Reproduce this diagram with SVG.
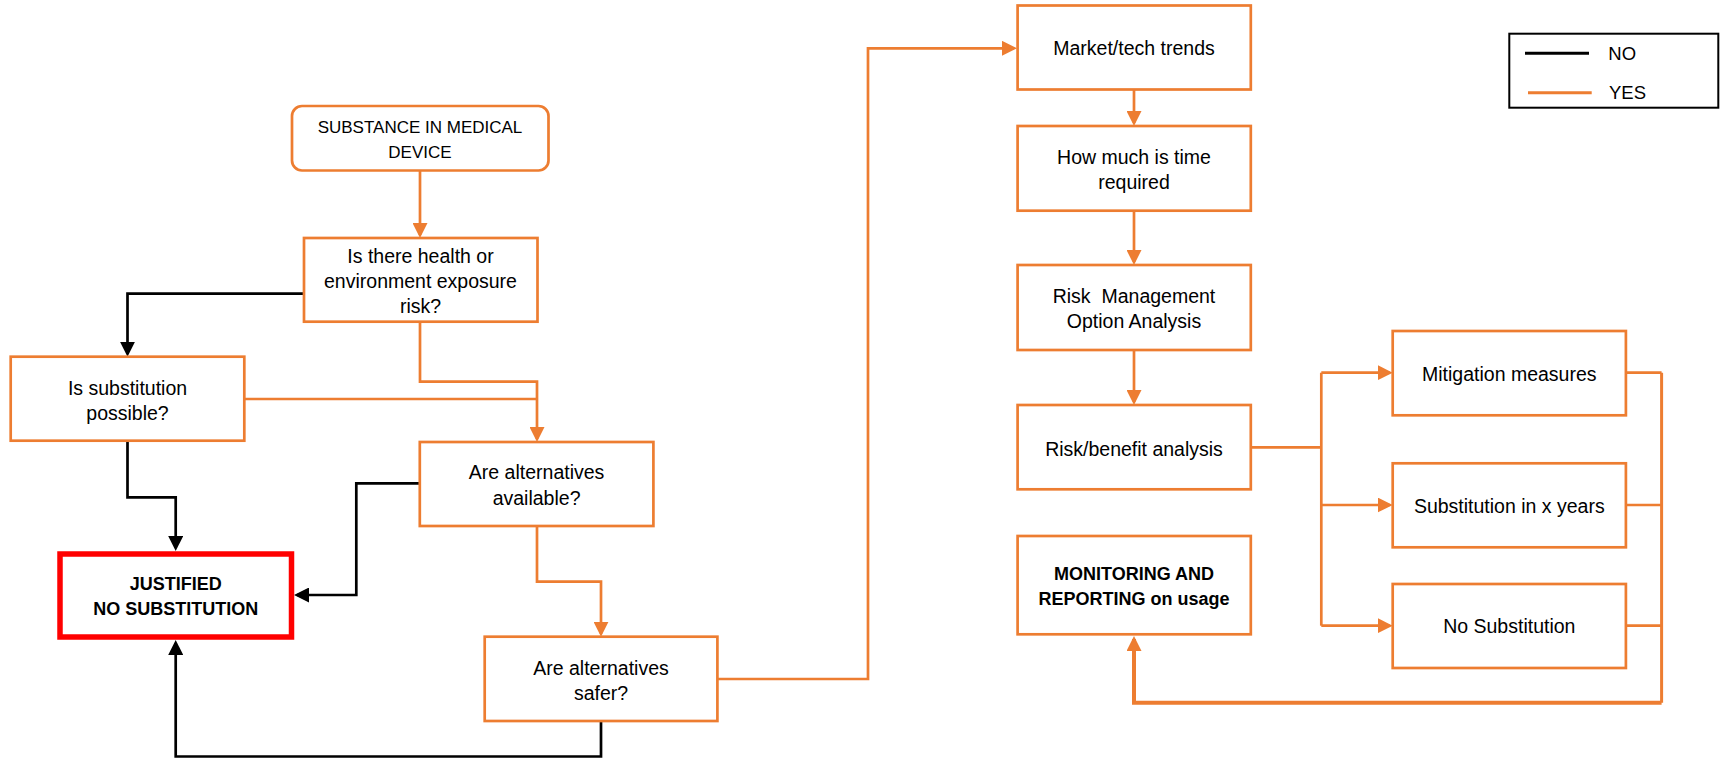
<svg xmlns="http://www.w3.org/2000/svg" width="1727" height="759" viewBox="0 0 1727 759">
<style>
.box{fill:#fff;stroke:#ED7D31;stroke-width:2.7}
.t{font-family:"Liberation Sans",Arial,sans-serif;font-size:19.5px;fill:#000;text-anchor:middle}
.c{font-size:17px}
.b{font-weight:bold;font-size:18px}
.y{fill:none;stroke:#ED7D31;stroke-width:2.7}
.n{fill:none;stroke:#000;stroke-width:2.7}
</style>
<defs>
<marker id="ao" markerUnits="userSpaceOnUse" markerWidth="15" markerHeight="15" refX="12" refY="7.5" orient="auto"><path d="M0,0 L15,7.5 L0,15 z" fill="#ED7D31"/></marker>
<marker id="ak" markerUnits="userSpaceOnUse" markerWidth="15" markerHeight="15" refX="12" refY="7.5" orient="auto"><path d="M0,0 L15,7.5 L0,15 z" fill="#000"/></marker>
</defs>
<rect width="1727" height="759" fill="#fff"/>
<g id="connectors">
<path class="y" d="M420,170.5 V235" marker-end="url(#ao)"/>
<path class="y" d="M420,321.7 V381.7 H537 V439" marker-end="url(#ao)"/>
<path class="y" d="M243.4,399 H537"/>
<path class="y" d="M537,526 V581.7 H601 V633.7" marker-end="url(#ao)"/>
<path class="y" d="M717.4,679 H868 V48.3 H1014" marker-end="url(#ao)"/>
<path class="y" d="M1134,89.5 V123" marker-end="url(#ao)"/>
<path class="y" d="M1134,210.7 V262" marker-end="url(#ao)"/>
<path class="y" d="M1134,350 V402" marker-end="url(#ao)"/>
<path class="y" d="M1250.8,447.3 H1321.3"/>
<path class="y" d="M1321.3,372.7 V625.7"/>
<path class="y" d="M1321.3,372.7 H1389.7" marker-end="url(#ao)"/>
<path class="y" d="M1321.3,505 H1389.7" marker-end="url(#ao)"/>
<path class="y" d="M1321.3,625.7 H1389.7" marker-end="url(#ao)"/>
<path class="y" d="M1626,372.7 H1661.6 M1626,505 H1661.6 M1626,625.7 H1661.6"/>
<path class="y" d="M1661.6,372.7 V702.7" style="stroke-width:3"/>
<path class="y" d="M1661.6,702.7 H1134 V639" style="stroke-width:4" marker-end="url(#ao)"/>
<path class="n" d="M304,293.6 H127.5 V353.7" marker-end="url(#ak)"/>
<path class="n" d="M127.5,440.7 V497.3 H175.7 V548" marker-end="url(#ak)"/>
<path class="n" d="M419.8,483.3 H356.3 V595 H297" marker-end="url(#ak)"/>
<path class="n" d="M601,721 V756.5 H175.7 V643" marker-end="url(#ak)"/>
</g>
<g id="n_substance">
<rect class="box" x="292" y="106" width="256.5" height="64.5" rx="10"/>
<text class="t c" x="420" y="132.8">SUBSTANCE IN MEDICAL</text>
<text class="t c" x="420" y="157.8">DEVICE</text>
</g>
<g id="n_exposure">
<rect class="box" x="304" y="238" width="233.5" height="83.7"/>
<text class="t" x="420.5" y="263.3">Is there health or</text>
<text class="t" x="420.5" y="287.7">environment exposure</text>
<text class="t" x="420.5" y="313">risk?</text>
</g>
<g id="n_possible">
<rect class="box" x="10.7" y="356.7" width="233.6" height="84"/>
<text class="t" x="127.5" y="394.7">Is substitution</text>
<text class="t" x="127.5" y="419.7">possible?</text>
</g>
<g id="n_available">
<rect class="box" x="419.8" y="442" width="233.6" height="84"/>
<text class="t" x="536.6" y="478.7">Are alternatives</text>
<text class="t" x="536.6" y="504.7">available?</text>
</g>
<g id="n_justified">
<rect x="60" y="554" width="231.5" height="83" fill="#fff" stroke="#FF0000" stroke-width="5.5"/>
<text class="t b" x="175.7" y="589.8">JUSTIFIED</text>
<text class="t b" x="175.7" y="614.8">NO SUBSTITUTION</text>
</g>
<g id="n_safer">
<rect class="box" x="484.7" y="636.7" width="232.7" height="84.3"/>
<text class="t" x="601" y="674.7">Are alternatives</text>
<text class="t" x="601" y="700.3">safer?</text>
</g>
<g id="n_market">
<rect class="box" x="1017.6" y="5.5" width="233.2" height="84"/>
<text class="t" x="1134" y="55.3">Market/tech trends</text>
</g>
<g id="n_time">
<rect class="box" x="1017.6" y="126" width="233.2" height="84.7"/>
<text class="t" x="1134" y="163.7">How much is time</text>
<text class="t" x="1134" y="188.7">required</text>
</g>
<g id="n_rmoa">
<rect class="box" x="1017.6" y="265" width="233.2" height="85"/>
<text class="t" x="1134" y="302.7" style="white-space:pre">Risk  Management</text>
<text class="t" x="1134" y="327.7">Option Analysis</text>
</g>
<g id="n_riskbenefit">
<rect class="box" x="1017.6" y="405" width="233.2" height="84.3"/>
<text class="t" x="1134" y="456">Risk/benefit analysis</text>
</g>
<g id="n_monitoring">
<rect class="box" x="1017.6" y="536" width="233.2" height="98.3"/>
<text class="t b" x="1134" y="579.8">MONITORING AND</text>
<text class="t b" x="1134" y="604.8">REPORTING on usage</text>
</g>
<g id="n_mitigation">
<rect class="box" x="1392.7" y="331" width="233.2" height="84.3"/>
<text class="t" x="1509.3" y="381">Mitigation measures</text>
</g>
<g id="n_subst_years">
<rect class="box" x="1392.7" y="463.3" width="233.2" height="84"/>
<text class="t" x="1509.3" y="512.7">Substitution in x years</text>
</g>
<g id="n_nosubst">
<rect class="box" x="1392.7" y="584" width="233.2" height="84"/>
<text class="t" x="1509.3" y="633">No Substitution</text>
</g>
<g id="legend">
<rect x="1509.3" y="33.7" width="209" height="74" fill="#fff" stroke="#000" stroke-width="2"/>
<line x1="1525" y1="53.3" x2="1589" y2="53.3" stroke="#000" stroke-width="3"/>
<line x1="1528" y1="92.7" x2="1591.7" y2="92.7" stroke="#ED7D31" stroke-width="3"/>
<text class="t" x="1608.3" y="59.5" style="text-anchor:start;font-size:18.5px">NO</text>
<text class="t" x="1609" y="99" style="text-anchor:start;font-size:18.5px">YES</text>
</g>
</svg>
